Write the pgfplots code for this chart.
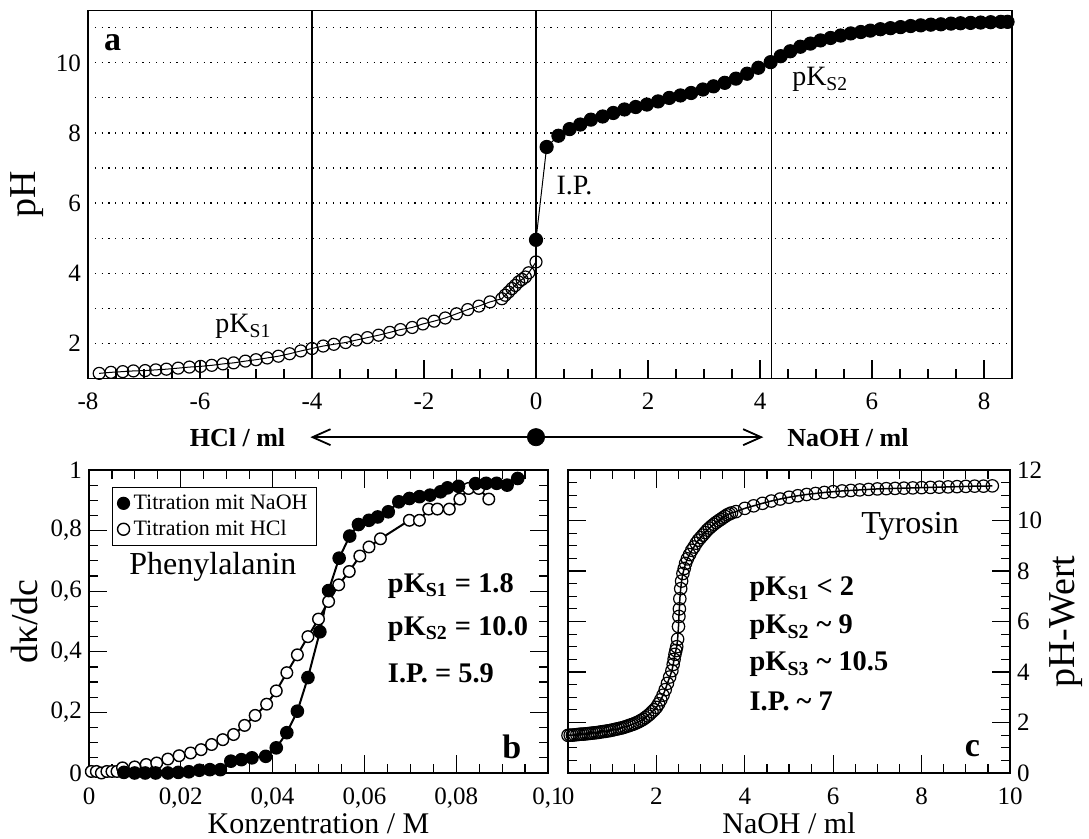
\documentclass[border=0pt]{standalone}
\usepackage{fontspec}
\setmainfont{Liberation Serif}
\usepackage{pgfplots}
\pgfplotsset{compat=1.18}
\usetikzlibrary{arrows.meta}

\pgfplotsset{
  every axis/.append style={
    scale only axis,
    axis line style={line width=0.7pt},
    tick style={line width=0.6pt, black},
    tick align=inside,
    major tick length=9pt, minor tick length=4.5pt,
    /pgf/number format/assume math mode=true,
    tick label style={font=\fontsize{12.5}{14}\selectfont},
    xticklabel style={yshift=-4pt},
    label style={font=\fontsize{15}{17}\selectfont},
  }
}

\begin{document}
\begin{tikzpicture}[x=1pt,y=1pt]
\path[use as bounding box] (0,0) rectangle (544.5,419.5);

% ---------------- panel a ----------------
\begin{axis}[
  at={(44pt,230.35pt)}, anchor=south west,
  width=462pt, height=184pt,
  xmin=-8, xmax=8.5, ymin=1, ymax=11.5,
  xtick={-8,-6,...,8}, minor x tick num=3, xtick pos=bottom,
  ytick={2,3,...,11}, yticklabels={2,,4,,6,,8,,10,}, ytick pos=left,
  ytick style={draw=none},
  ymajorgrids,
  major grid style={black, line width=0.55pt, dash pattern=on 0.6pt off 2.8pt},
  ylabel={pH},
  ylabel style={at={(axis description cs:-0.066,0.5)}, anchor=center, font=\fontsize{19}{21}\selectfont},
  clip=false]
\addplot[black, line width=0.6pt] coordinates {(-4,1) (-4,11.5)};
\addplot[black, line width=0.6pt] coordinates {(0,1) (0,11.5)};
\addplot[black, line width=0.6pt] coordinates {(4.2,1) (4.2,11.5)};

\addplot[black, line width=0.5pt, mark=o, mark size=3pt, mark options={solid, line width=0.6pt}] coordinates {
(-7.80,1.14) (-7.59,1.17) (-7.38,1.19) (-7.19,1.21) (-6.98,1.22) (-6.79,1.24) (-6.60,1.26) (-6.39,1.29)
(-6.19,1.32) (-5.99,1.34) (-5.79,1.37) (-5.59,1.41) (-5.40,1.44) (-5.19,1.49) (-5.00,1.53) (-4.80,1.58)
(-4.60,1.63) (-4.40,1.70) (-4.20,1.78) (-4.00,1.85) (-3.80,1.92) (-3.61,1.97) (-3.40,2.02) (-3.21,2.09)
(-3.01,2.16) (-2.81,2.23) (-2.61,2.31) (-2.42,2.39) (-2.21,2.45) (-2.02,2.55) (-1.82,2.63) (-1.62,2.72)
(-1.42,2.84) (-1.22,2.96) (-1.02,3.06) (-0.82,3.18) (-0.61,3.27) (-0.55,3.37) (-0.49,3.46) (-0.43,3.56)
(-0.37,3.65) (-0.31,3.75) (-0.25,3.82) (-0.19,3.89) (-0.13,4.01) (0,4.32)};

\addplot[black, line width=0.5pt, mark=*, mark size=3.3pt] coordinates {
(0,4.95) (0.19,7.60) (0.40,7.92) (0.60,8.11) (0.79,8.24) (0.98,8.38) (1.19,8.47) (1.38,8.57)
(1.58,8.67) (1.78,8.74) (1.98,8.81) (2.18,8.90) (2.38,9.00) (2.58,9.07) (2.77,9.14) (2.98,9.24)
(3.17,9.33) (3.37,9.43) (3.57,9.55) (3.77,9.69) (3.97,9.86) (4.19,10.02) (4.37,10.19) (4.54,10.33)
(4.72,10.46) (4.90,10.55) (5.08,10.64) (5.26,10.71) (5.44,10.78) (5.62,10.84) (5.80,10.88) (5.97,10.92)
(6.15,10.96) (6.33,10.99) (6.51,11.02) (6.69,11.05) (6.87,11.07) (7.05,11.09) (7.23,11.10) (7.41,11.12)
(7.58,11.13) (7.76,11.14) (7.94,11.15) (8.12,11.16) (8.30,11.17) (8.42,11.17)};

\node[font=\bfseries\fontsize{17}{19}\selectfont] at (axis cs:-7.56,10.58) {a};
\node[anchor=west, font=\fontsize{14}{16}\selectfont] at (axis cs:-5.85,2.47) {pK\textsubscript{S1}};
\node[anchor=west, font=\fontsize{14}{16}\selectfont] at (axis cs:0.24,6.49) {I.P.};
\node[anchor=west, font=\fontsize{14}{16}\selectfont] at (axis cs:4.45,9.52) {pK\textsubscript{S2}};

% arrow row
\draw[line width=1.1pt, -{Straight Barb[length=9pt,width=8pt,line width=0.9pt]}] (axis cs:0,-0.68) -- (axis cs:-4.03,-0.68);
\draw[line width=1.1pt, -{Straight Barb[length=9pt,width=8pt,line width=0.9pt]}] (axis cs:0,-0.68) -- (axis cs:4.06,-0.68);
\addplot[only marks, mark=*, mark size=4.3pt] coordinates {(0,-0.68)};
\node[font=\bfseries\fontsize{13}{15}\selectfont] at (axis cs:-5.33,-0.68) {HCl / ml};
\node[font=\bfseries\fontsize{13}{15}\selectfont] at (axis cs:5.57,-0.68) {NaOH / ml};
\end{axis}

% ---------------- panel b ----------------
\begin{axis}[
  at={(44.5pt,33pt)}, anchor=south west,
  width=229.5pt, height=151.5pt,
  xmin=0, xmax=0.1, ymin=0, ymax=1,
  xtick={0,0.02,0.04,0.06,0.08,0.1}, ytick={0,0.2,0.4,0.6,0.8,1},
  minor x tick num=3, minor y tick num=3,
  scaled x ticks=false, scaled y ticks=false,
  xticklabel style={/pgf/number format/.cd, use comma, fixed, precision=2},
  yticklabel style={/pgf/number format/.cd, use comma, fixed, precision=1},
  xlabel={Konzentration / M}, ylabel={dκ/dc},
  xlabel style={at={(axis description cs:0.5,-0.2)}, anchor=base},
  ylabel style={at={(axis description cs:-0.14,0.5)}, anchor=center, font=\fontsize{19}{21}\selectfont},
  legend style={at={(axis cs:0.005,0.944)}, anchor=north west, font=\fontsize{11}{12}\selectfont,
    draw=black, line width=0.6pt, inner xsep=2.5pt, inner ysep=1.5pt, row sep=0pt, cells={anchor=west}},
  clip=false]
\addlegendimage{only marks, mark=*, mark size=3pt, black}
\addlegendentry{Titration mit NaOH}
\addlegendimage{only marks, mark=*, mark size=3pt, black, mark options={fill=white, line width=0.7pt}}
\addlegendentry{Titration mit HCl}

\addplot[black, line width=1pt, mark=*, mark size=2.9pt, mark options={fill=white, line width=0.7pt}, forget plot] coordinates {
(0.0005,0.005) (0.0016,0.005) (0.0027,0.0) (0.0039,0.005) (0.0050,0.005) (0.0061,0.005) (0.0073,0.017)
(0.00995,0.020) (0.01246,0.028) (0.01475,0.033) (0.01718,0.046) (0.01963,0.057) (0.02214,0.066)
(0.02442,0.077) (0.02671,0.094) (0.02915,0.110) (0.0315,0.127) (0.0339,0.157) (0.0362,0.190)
(0.0387,0.227) (0.0408,0.271) (0.0431,0.331) (0.0454,0.390) (0.0477,0.450) (0.0500,0.508)
(0.0522,0.566) (0.0544,0.621) (0.0567,0.665) (0.0590,0.716) (0.0610,0.746) (0.0635,0.773)
(0.0698,0.834) (0.0720,0.834) (0.0740,0.871) (0.0759,0.871) (0.0785,0.871) (0.0808,0.904)
(0.0827,0.939) (0.0849,0.939) (0.0871,0.904)};

\addplot[black, line width=1pt, mark=*, mark size=2.9pt, forget plot] coordinates {
(0.0076,0.002) (0.00995,0.0) (0.01224,0.0) (0.01452,0.0) (0.01718,0.0) (0.01947,0.002) (0.02176,0.004)
(0.02404,0.009) (0.02633,0.011) (0.02862,0.011) (0.0309,0.039) (0.0332,0.044) (0.0355,0.050)
(0.0385,0.055) (0.0408,0.083) (0.0431,0.133) (0.0454,0.204) (0.0477,0.315) (0.0503,0.466)
(0.0522,0.602) (0.0545,0.709) (0.0568,0.782) (0.0587,0.820) (0.0610,0.834) (0.0629,0.845)
(0.0652,0.862) (0.0675,0.895) (0.0698,0.906) (0.0720,0.912) (0.0743,0.917) (0.0766,0.928)
(0.0781,0.941) (0.0805,0.946) (0.0842,0.955) (0.0865,0.956) (0.0888,0.956) (0.0911,0.950)
(0.0934,0.972)};

\node[font=\fontsize{16}{18}\selectfont] at (axis cs:0.027,0.680) {Phenylalanin};
\node[anchor=west, font=\bfseries\fontsize{14.2}{16}\selectfont] at (axis cs:0.0636,0.617) {pK\textsubscript{S1} = 1.8};
\node[anchor=west, font=\bfseries\fontsize{14.2}{16}\selectfont] at (axis cs:0.0636,0.475) {pK\textsubscript{S2} = 10.0};
\node[anchor=west, font=\bfseries\fontsize{14.2}{16}\selectfont] at (axis cs:0.0636,0.330) {I.P. = 5.9};
\node[font=\bfseries\fontsize{17}{19}\selectfont] at (axis cs:0.0921,0.087) {b};
\end{axis}

% ---------------- panel c ----------------
\begin{axis}[
  at={(284pt,33pt)}, anchor=south west,
  width=221pt, height=151.5pt,
  xmin=0, xmax=10, ymin=0, ymax=12,
  xtick={0,2,...,10}, ytick={0,2,...,12},
  minor x tick num=3, minor y tick num=3,
  yticklabel pos=right, ytick pos=both,
  xlabel={NaOH / ml}, ylabel={pH-Wert},
  xlabel style={at={(axis description cs:0.5,-0.2)}, anchor=base},
  ylabel style={at={(axis description cs:1.127,0.5)}, anchor=center, font=\fontsize{19}{21}\selectfont},
  clip=false]
\addplot[black, line width=0.75pt, mark=o, mark size=3.1pt, mark options={solid, line width=0.6pt}] coordinates {
(0.00,1.49) (0.05,1.50) (0.10,1.50) (0.15,1.51) (0.20,1.52) (0.25,1.53) (0.30,1.54) (0.35,1.54)
(0.40,1.55) (0.45,1.56) (0.50,1.57) (0.55,1.58) (0.60,1.59) (0.65,1.60) (0.70,1.61) (0.75,1.63)
(0.80,1.64) (0.85,1.65) (0.90,1.67) (0.95,1.68) (1.00,1.70) (1.05,1.72) (1.10,1.74) (1.15,1.76)
(1.20,1.78) (1.25,1.80) (1.30,1.83) (1.35,1.86) (1.40,1.89) (1.45,1.92) (1.50,1.95) (1.55,1.99)
(1.60,2.03) (1.65,2.08) (1.70,2.13) (1.75,2.19) (1.80,2.26) (1.85,2.33) (1.90,2.42) (1.95,2.50)
(2.00,2.60) (2.05,2.74) (2.10,2.90) (2.15,3.08) (2.20,3.30) (2.25,3.55) (2.30,3.80) (2.35,4.05)
(2.38,4.30) (2.40,4.50) (2.42,4.70) (2.44,4.85) (2.46,5.00) (2.48,5.30) (2.50,5.80) (2.51,6.20)
(2.52,6.50) (2.53,6.90) (2.55,7.30) (2.57,7.60) (2.60,7.90) (2.63,8.10) (2.66,8.30) (2.70,8.48)
(2.75,8.65) (2.80,8.82) (2.85,8.95) (2.90,9.10) (2.95,9.22) (3.00,9.32) (3.05,9.42) (3.10,9.52)
(3.15,9.62) (3.20,9.70) (3.25,9.78) (3.30,9.85) (3.35,9.92) (3.40,9.98) (3.45,10.04) (3.50,10.10)
(3.55,10.16) (3.60,10.22) (3.65,10.26) (3.70,10.30) (3.80,10.35) (4.00,10.48) (4.20,10.58) (4.40,10.68)
(4.60,10.77) (4.80,10.85) (5.00,10.92) (5.20,10.98) (5.40,11.03) (5.60,11.07) (5.80,11.11) (6.00,11.14)
(6.20,11.17) (6.40,11.19) (6.60,11.21) (6.80,11.23) (7.00,11.25) (7.20,11.26) (7.40,11.27) (7.60,11.28)
(7.80,11.29) (8.00,11.30) (8.20,11.31) (8.40,11.32) (8.60,11.33) (8.80,11.34) (9.00,11.35) (9.20,11.36)
(9.40,11.36) (9.60,11.37)};

\node[font=\fontsize{16}{18}\selectfont] at (axis cs:7.74,9.75) {Tyrosin};
\node[anchor=west, font=\bfseries\fontsize{14.2}{16}\selectfont] at (axis cs:3.95,7.29) {pK\textsubscript{S1} < 2};
\node[anchor=west, font=\bfseries\fontsize{14.2}{16}\selectfont] at (axis cs:3.95,5.76) {pK\textsubscript{S2} \textasciitilde{} 9};
\node[anchor=west, font=\bfseries\fontsize{14.2}{16}\selectfont] at (axis cs:3.95,4.30) {pK\textsubscript{S3} \textasciitilde{} 10.5};
\node[anchor=west, font=\bfseries\fontsize{14.2}{16}\selectfont] at (axis cs:3.95,2.84) {I.P. \textasciitilde{} 7};
\node[font=\bfseries\fontsize{17}{19}\selectfont] at (axis cs:9.15,0.98) {c};
\end{axis}
\end{tikzpicture}
\end{document}
